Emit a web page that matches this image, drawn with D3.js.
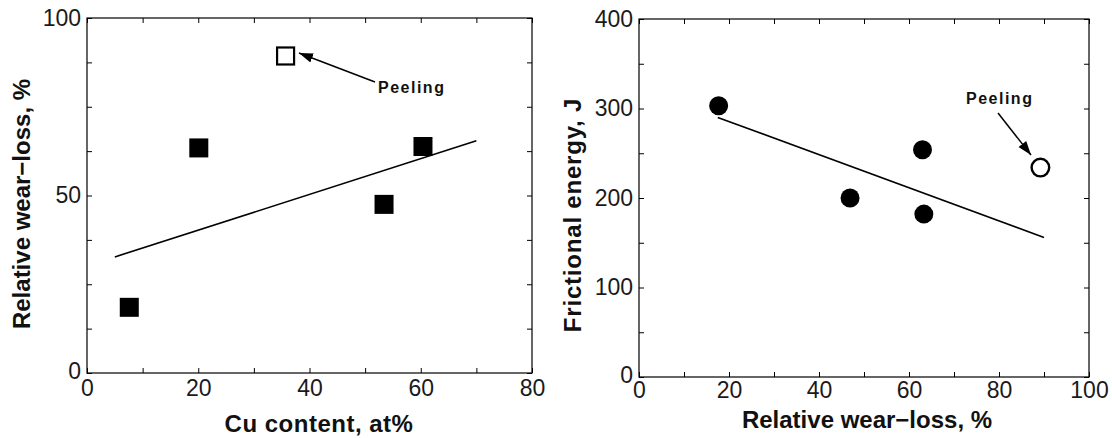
<!DOCTYPE html>
<html>
<head>
<meta charset="utf-8">
<script src="https://cdn.jsdelivr.net/npm/d3@7"></script>
<style>
  body { margin: 0; background: #fff; }
  svg { display: block; font-family: "Liberation Sans", Arial, sans-serif; }
  .tick text { font-size: 23px; fill: #1a1a1a; }
  .domain { display: none; }
  .tick line { stroke: #000; stroke-width: 1; }
  .title { font-size: 24px; font-weight: bold; fill: #111; }
  .note { font-size: 16px; font-weight: bold; letter-spacing: 1.5px; fill: #111; }
</style>
</head>
<body>
<svg id="chart" width="1112" height="438"></svg>
<script>
// Left panel: Cu content vs relative wear-loss
const cuFilled = [[7.6, 18.5], [20.1, 63.4], [53.4, 47.5], [60.4, 63.8]];
const cuPeeling = [[35.7, 89.3]];
const cuFit = [[5, 32.7], [70, 65.4]];
const leftXTicks = d3.range(0, 81, 10);
const leftXLabels = [0, 20, 40, 60, 80];
const leftYTicks = d3.range(0, 100.1, 12.5);
const leftYLabels = [0, 50, 100];

// Right panel: relative wear-loss vs frictional energy
const wearFilled = [[17.7, 303], [46.9, 200], [63.0, 254], [63.3, 182]];
const wearPeeling = [[89.2, 234]];
const wearFit = [[17.5, 290], [90, 156]];
const rightXTicks = d3.range(0, 101, 10);
const rightXLabels = [0, 20, 40, 60, 80, 100];
const rightYTicks = d3.range(0, 401, 50);
const rightYLabels = [0, 100, 200, 300, 400];

const svg = d3.select("#chart");

svg.append("defs").append("marker")
    .attr("id", "head")
    .attr("viewBox", "0 0 10 10")
    .attr("refX", 10).attr("refY", 5)
    .attr("markerWidth", 14).attr("markerHeight", 14)
    .attr("markerUnits", "userSpaceOnUse")
    .attr("orient", "auto")
  .append("path")
    .attr("d", "M0,1.5 L10,5 L0,8.5 Z")
    .attr("fill", "#000");

function panel(cfg) {
    const x = d3.scaleLinear().domain(cfg.xDomain).range([cfg.left, cfg.right]);
    const y = d3.scaleLinear().domain(cfg.yDomain).range([cfg.bottom, cfg.top]);
    const g = svg.append("g");

    // frame
    g.append("rect")
        .attr("x", cfg.left).attr("y", cfg.top)
        .attr("width", cfg.right - cfg.left).attr("height", cfg.bottom - cfg.top)
        .attr("fill", "none").attr("stroke", "#000").attr("stroke-width", 1.2);

    // inward ticks on every side, labels only on bottom and left
    g.append("g").attr("transform", `translate(0,${cfg.bottom})`)
        .call(d3.axisBottom(x).tickValues(cfg.xTicks).tickSizeInner(-5).tickSizeOuter(0)
            .tickPadding(cfg.xPad).tickFormat(d => cfg.xLabels.includes(d) ? d : ""));
    g.append("g").attr("transform", `translate(0,${cfg.top})`)
        .call(d3.axisTop(x).tickValues(cfg.xTicks).tickSizeInner(-5).tickSizeOuter(0).tickFormat(""));
    const yAxis = g.append("g").attr("transform", `translate(${cfg.left},0)`)
        .call(d3.axisLeft(y).tickValues(cfg.yTicks).tickSizeInner(-5).tickSizeOuter(0)
            .tickPadding(6).tickFormat(d => cfg.yLabels.includes(d) ? d : ""));
    g.append("g").attr("transform", `translate(${cfg.right},0)`)
        .call(d3.axisRight(y).tickValues(cfg.yTicks).tickSizeInner(-5).tickSizeOuter(0).tickFormat(""));

    // lift the y-axis zero a little, like the original
    yAxis.selectAll(".tick text").filter(d => d === 0).attr("y", -2);

    // fit line
    g.append("line")
        .attr("x1", x(cfg.fit[0][0])).attr("y1", y(cfg.fit[0][1]))
        .attr("x2", x(cfg.fit[1][0])).attr("y2", y(cfg.fit[1][1]))
        .attr("stroke", "#000").attr("stroke-width", 1.6);

    cfg.drawMarks(g, x, y);

    // axis titles
    g.append("text").attr("class", "title")
        .attr("x", cfg.xTitlePos[0]).attr("y", cfg.xTitlePos[1])
        .attr("text-anchor", "middle")
        .attr("letter-spacing", cfg.xTitleSpacing)
        .text(cfg.xTitle);
    g.append("text").attr("class", "title")
        .attr("transform", `translate(${cfg.yTitlePos[0]},${cfg.yTitlePos[1]}) rotate(-90)`)
        .attr("text-anchor", "middle")
        .attr("letter-spacing", cfg.yTitleSpacing)
        .text(cfg.yTitle);

    // peeling annotation
    const n = cfg.note;
    g.append("line")
        .attr("x1", n.from[0]).attr("y1", n.from[1])
        .attr("x2", n.to[0]).attr("y2", n.to[1])
        .attr("stroke", "#000").attr("stroke-width", 1.5)
        .attr("marker-end", "url(#head)");
    g.append("text").attr("class", "note")
        .attr("x", n.text[0]).attr("y", n.text[1])
        .text("Peeling");
}

panel({
    left: 87, right: 532, top: 18, bottom: 373,
    xDomain: [0, 80], yDomain: [0, 100],
    xTicks: leftXTicks, xLabels: leftXLabels, xPad: 7,
    yTicks: leftYTicks, yLabels: leftYLabels,
    fit: cuFit,
    drawMarks: (g, x, y) => {
        const s = 19;
        g.selectAll(".sq").data(cuFilled).join("rect")
            .attr("x", d => x(d[0]) - s / 2).attr("y", d => y(d[1]) - s / 2)
            .attr("width", s).attr("height", s).attr("fill", "#000");
        g.selectAll(".osq").data(cuPeeling).join("rect")
            .attr("x", d => x(d[0]) - s / 2 + 1).attr("y", d => y(d[1]) - s / 2 + 1)
            .attr("width", s - 2).attr("height", s - 2)
            .attr("fill", "#fff").attr("stroke", "#000").attr("stroke-width", 2.2);
    },
    xTitle: "Cu content, at%", xTitlePos: [319, 432], xTitleSpacing: 0.5,
    yTitle: "Relative wear\u2212loss, %", yTitlePos: [30, 204], yTitleSpacing: 0,
    note: { from: [375, 82], to: [299, 53], text: [378, 93] }
});

panel({
    left: 639, right: 1089, top: 19, bottom: 377,
    xDomain: [0, 100], yDomain: [0, 400],
    xTicks: rightXTicks, xLabels: rightXLabels, xPad: 5,
    yTicks: rightYTicks, yLabels: rightYLabels,
    fit: wearFit,
    drawMarks: (g, x, y) => {
        g.selectAll(".dot").data(wearFilled).join("circle")
            .attr("cx", d => x(d[0])).attr("cy", d => y(d[1]))
            .attr("r", 9.5).attr("fill", "#000");
        g.selectAll(".odot").data(wearPeeling).join("circle")
            .attr("cx", d => x(d[0])).attr("cy", d => y(d[1]))
            .attr("r", 8.8).attr("fill", "#fff").attr("stroke", "#000").attr("stroke-width", 2.4);
    },
    xTitle: "Relative wear\u2212loss, %", xTitlePos: [867, 428], xTitleSpacing: 0,
    yTitle: "Frictional energy, J", yTitlePos: [581, 215], yTitleSpacing: 0.8,
    note: { from: [998, 113], to: [1031, 155], text: [966, 104] }
});
</script>
</body>
</html>
